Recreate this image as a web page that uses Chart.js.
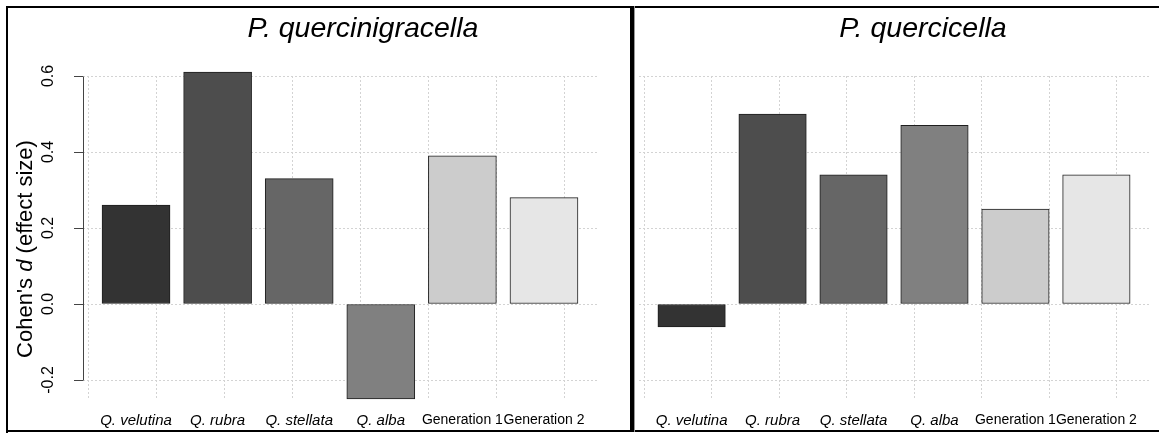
<!DOCTYPE html>
<html>
<head>
<meta charset="utf-8">
<script src="https://cdn.jsdelivr.net/npm/chart.js@4.4.1/dist/chart.umd.min.js"></script>
<style>
  html, body { margin: 0; padding: 0; background: #fff; }
  body { position: relative; width: 1159px; height: 435px; overflow: hidden;
         font-family: 'Liberation Sans', Arial, Helvetica, sans-serif; }
  .panel { position: absolute; top: 0; height: 435px; }
  #panelLeft { left: 0; width: 631px; }
  #panelRight { left: 633px; width: 526px; }
  .rule { position: absolute; background: #000; z-index: 5; }
  .title { position: absolute; top: 11px; width: 400px; text-align: center;
           font-style: italic; font-size: 28.5px; line-height: 32px; color: #000; z-index: 4; }
  .ylab { position: absolute; left: -125px; top: 236px; width: 300px; height: 26px;
          line-height: 26px; text-align: center; font-size: 22px; color: #000;
          transform: rotate(-90deg); z-index: 4; }
</style>
</head>
<body>
  <div class="panel" id="panelLeft"><canvas id="chartLeft"></canvas></div>
  <div class="panel" id="panelRight"><canvas id="chartRight"></canvas></div>

  <div class="title" style="left:163px">P. quercinigracella</div>
  <div class="title" style="left:723px">P. quercicella</div>
  <div class="ylab">Cohen's <i>d</i> (effect size)</div>

  <!-- outer frame and panel divider -->
  <div class="rule" style="left:6px;top:6px;width:1153px;height:2px"></div>
  <div class="rule" style="left:6px;top:6px;width:2px;height:427px"></div>
  <div class="rule" style="left:6px;top:430px;width:1153px;height:2px"></div>
  <div class="rule" style="left:630px;top:6px;width:4px;height:426px"></div>
  <div class="rule" style="left:634px;top:6px;width:1px;height:426px;background:#999"></div>

<script>
// Host oak species and generations
const categories = ['Q. velutina', 'Q. rubra', 'Q. stellata', 'Q. alba', 'Generation 1', 'Generation 2'];
const italicCategory = [true, true, true, true, false, false];

// Cohen's d per category for each moth species
const quercinigracellaD = [0.26, 0.61, 0.33, -0.25, 0.39, 0.28];
const quercicellaD = [-0.06, 0.50, 0.34, 0.47, 0.25, 0.34];

// Bar fill greys, one per category
const barGrays = ['#333333', '#4d4d4d', '#666666', '#808080', '#cccccc', '#e6e6e6'];

// Value axis
const yTickValues = [-0.2, 0.0, 0.2, 0.4, 0.6];
const yLimits = [-0.25, 0.6];

// Barplot geometry in axis units: unit-wide bars separated by 0.2, range padded by 4%
const BAR_WIDTH = 1;
const BAR_SPACE = 0.2;
const GRID_STEP = 1;
const barCenter = i => BAR_SPACE + i * (BAR_WIDTH + BAR_SPACE) + BAR_WIDTH / 2;
const xLo = BAR_SPACE;
const xHi = categories.length * (BAR_WIDTH + BAR_SPACE);
const xMin = xLo - 0.04 * (xHi - xLo);
const xMax = xHi + 0.04 * (xHi - xLo);
const gridX = [];
for (let v = Math.ceil(xMin); v <= Math.floor(xMax); v += GRID_STEP) gridX.push(v);

const FONT = "'Liberation Sans', Arial, Helvetica, sans-serif";
const GRID_COLOR = '#d3d3d3';
const GRID_DASH = [2, 2];
const AXIS_COLOR = '#444444';

// Axis line running only between the first and last labelled tick
const yAxisLine = {
  id: 'yAxisLine',
  afterDraw(chart, args, opts) {
    if (!opts.show) return;
    const s = chart.scales.y;
    const ctx = chart.ctx;
    const x = Math.round(chart.chartArea.left) + 0.5;
    const top = s.getPixelForValue(Math.max(...yTickValues));
    const bottom = s.getPixelForValue(Math.min(...yTickValues));
    ctx.save();
    ctx.strokeStyle = AXIS_COLOR;
    ctx.lineWidth = 1;
    ctx.beginPath();
    ctx.moveTo(x, Math.round(top) + 0.5);
    ctx.lineTo(x, Math.round(bottom) + 0.5);
    ctx.stroke();
    ctx.restore();
  }
};

function makeChart(canvasId, values, showAxis, padLeft, padRight) {
  return new Chart(document.getElementById(canvasId), {
    type: 'bar',
    data: {
      datasets: [{
        data: values.map((v, i) => ({ x: barCenter(i), y: v })),
        backgroundColor: barGrays,
        borderColor: '#1e1e1e',
        borderWidth: 1,
        borderSkipped: false,
        categoryPercentage: 1,
        barPercentage: BAR_WIDTH / GRID_STEP,
        clip: false
      }]
    },
    plugins: [yAxisLine],
    options: {
      responsive: true,
      maintainAspectRatio: false,
      devicePixelRatio: 1,
      animation: false,
      events: [],
      layout: { padding: { top: 76, bottom: 0, left: padLeft, right: padRight } },
      plugins: {
        legend: { display: false },
        title: { display: false },
        tooltip: { enabled: false },
        yAxisLine: { show: showAxis }
      },
      scales: {
        x: {
          type: 'linear',
          position: 'bottom',
          min: xMin,
          max: xMax,
          offset: false,
          z: 1,
          afterBuildTicks: s => { s.ticks = gridX.map(v => ({ value: v })); },
          afterFit: s => { s.height = 0; },
          grid: { color: GRID_COLOR, lineWidth: 1, drawTicks: false, offset: false },
          border: { display: false, dash: GRID_DASH },
          ticks: { display: false }
        },
        xl: {
          type: 'linear',
          position: 'bottom',
          min: xMin,
          max: xMax,
          offset: false,
          afterBuildTicks: s => { s.ticks = categories.map((c, i) => ({ value: barCenter(i) })); },
          afterFit: s => { s.height = 36; },
          grid: { display: false, drawTicks: false, offset: false },
          border: { display: false },
          ticks: {
            autoSkip: false,
            minRotation: 0,
            maxRotation: 0,
            padding: 13,
            color: '#000',
            font: ctx => italicCategory[ctx.index]
              ? { family: FONT, size: 15, style: 'italic' }
              : { family: FONT, size: 14, style: 'normal' },
            callback: (v, i) => categories[i]
          }
        },
        y: {
          type: 'linear',
          position: 'left',
          min: yLimits[0],
          max: yLimits[1],
          z: 1,
          afterBuildTicks: s => { s.ticks = yTickValues.map(v => ({ value: v })); },
          afterFit: s => { s.width = showAxis ? 83 : 0; },
          grid: {
            color: GRID_COLOR,
            lineWidth: 1,
            drawTicks: showAxis,
            tickLength: 9,
            tickColor: AXIS_COLOR,
            tickWidth: 1,
            tickBorderDash: []
          },
          border: { display: false, dash: GRID_DASH },
          ticks: {
            display: showAxis,
            minRotation: 90,
            maxRotation: 90,
            crossAlign: 'center',
            padding: 12,
            color: '#000',
            font: { family: FONT, size: 16 },
            callback: v => Number(v).toFixed(1)
          }
        }
      }
    }
  });
}

makeChart('chartLeft', quercinigracellaD, true, 0, 34);
makeChart('chartRight', quercicellaD, false, 6, 10);
</script>
</body>
</html>
